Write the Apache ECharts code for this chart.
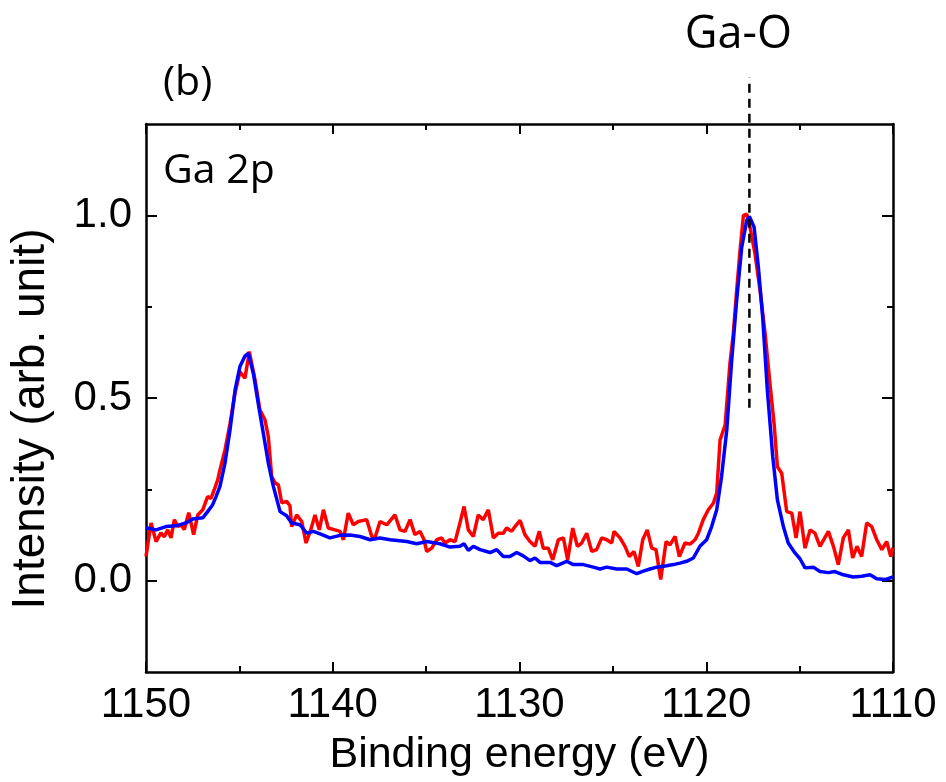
<!DOCTYPE html>
<html>
<head>
<meta charset="utf-8">
<script src="https://cdn.jsdelivr.net/npm/echarts@6/dist/echarts.min.js"></script>
<style>
  html, body { margin: 0; padding: 0; background: #ffffff; }
  #chart { width: 946px; height: 782px; }
</style>
</head>
<body>
<div id="chart"></div>
<script>
// Ga 2p XPS spectra, normalised intensity vs binding energy (eV)
const redEnergy = [
  1150.00, 1149.73, 1149.46, 1149.20, 1149.02, 1148.84, 1148.66, 1148.48, 1148.30, 1148.13,
  1147.95, 1147.71, 1147.45, 1147.23, 1146.96, 1146.70, 1146.52, 1146.34, 1146.16, 1146.04,
  1145.77, 1145.50, 1145.23, 1144.97, 1144.70, 1144.47, 1144.16, 1143.90, 1143.63, 1143.45,
  1143.27, 1143.09, 1142.91, 1142.73, 1142.47, 1142.29, 1142.20, 1141.93, 1141.66, 1141.43,
  1141.18, 1140.95, 1140.72, 1140.50, 1140.24, 1139.88, 1139.61, 1139.43, 1139.17, 1138.90,
  1138.63, 1138.18, 1137.91, 1137.74, 1137.47, 1137.11, 1136.67, 1136.40, 1136.13, 1135.86,
  1135.60, 1135.33, 1135.11, 1134.97, 1134.70, 1134.43, 1134.17, 1133.99, 1133.72, 1133.45,
  1133.19, 1132.97, 1132.74, 1132.47, 1132.21, 1131.94, 1131.67, 1131.40, 1131.14, 1130.87,
  1130.69, 1130.42, 1130.24, 1129.97, 1129.71, 1129.44, 1129.17, 1128.94, 1128.73, 1128.46,
  1128.22, 1127.92, 1127.65, 1127.42, 1127.15, 1126.90, 1126.67, 1126.40, 1126.13, 1125.87,
  1125.60, 1125.33, 1125.06, 1124.94, 1124.62, 1124.35, 1124.12, 1123.87, 1123.64, 1123.40,
  1123.16, 1122.92, 1122.69, 1122.44, 1122.15, 1121.94, 1121.67, 1121.44, 1121.14, 1120.87,
  1120.60, 1120.42, 1120.16, 1119.89, 1119.62, 1119.44, 1119.26, 1118.99, 1118.73, 1118.55,
  1118.37, 1118.19, 1118.01, 1117.83, 1117.66, 1117.39, 1117.12, 1116.85, 1116.59, 1116.37,
  1116.19, 1115.96, 1115.69, 1115.42, 1115.19, 1114.98, 1114.71, 1114.44, 1114.18, 1113.91,
  1113.46, 1113.19, 1112.93, 1112.66, 1112.39, 1112.16, 1111.93, 1111.68, 1111.41, 1111.14,
  1110.87, 1110.60, 1110.34, 1110.12, 1110.00
];
const redIntensity = [
  0.066, 0.158, 0.107, 0.131, 0.120, 0.139, 0.117, 0.167, 0.148, 0.153,
  0.140, 0.186, 0.126, 0.180, 0.194, 0.230, 0.225, 0.250, 0.276, 0.303,
  0.358, 0.430, 0.514, 0.572, 0.554, 0.627, 0.549, 0.467, 0.440, 0.394,
  0.285, 0.268, 0.262, 0.213, 0.217, 0.205, 0.148, 0.180, 0.162, 0.103,
  0.139, 0.180, 0.139, 0.194, 0.144, 0.139, 0.135, 0.112, 0.185, 0.153,
  0.162, 0.167, 0.121, 0.117, 0.162, 0.153, 0.180, 0.139, 0.135, 0.167,
  0.126, 0.135, 0.112, 0.080, 0.089, 0.112, 0.117, 0.103, 0.112, 0.107,
  0.158, 0.203, 0.139, 0.121, 0.180, 0.167, 0.194, 0.117, 0.130, 0.130,
  0.144, 0.135, 0.148, 0.165, 0.126, 0.107, 0.094, 0.135, 0.089, 0.089,
  0.057, 0.112, 0.117, 0.057, 0.144, 0.094, 0.103, 0.130, 0.080, 0.085,
  0.117, 0.112, 0.103, 0.135, 0.117, 0.094, 0.066, 0.080, 0.039, 0.112,
  0.139, 0.089, 0.085, 0.003, 0.107, 0.098, 0.121, 0.066, 0.103, 0.100,
  0.112, 0.130, 0.167, 0.194, 0.212, 0.240, 0.385, 0.426, 0.595, 0.677,
  0.795, 0.904, 1.000, 1.003, 0.968, 0.895, 0.795, 0.677, 0.540, 0.431,
  0.312, 0.294, 0.189, 0.185, 0.117, 0.189, 0.089, 0.139, 0.130, 0.094,
  0.135, 0.094, 0.044, 0.117, 0.139, 0.062, 0.094, 0.066, 0.158, 0.148,
  0.112, 0.085, 0.107, 0.066, 0.090
];
const blueEnergy = [
  1150.00, 1149.46, 1148.93, 1148.39, 1147.86, 1147.50, 1146.96, 1146.70, 1146.43, 1146.25,
  1146.04, 1145.77, 1145.50, 1145.23, 1144.97, 1144.70, 1144.52, 1144.25, 1143.99, 1143.72,
  1143.45, 1143.18, 1142.82, 1142.47, 1142.20, 1141.75, 1141.40, 1141.04, 1140.68, 1140.15,
  1139.61, 1139.08, 1138.54, 1138.00, 1137.47, 1136.93, 1136.04, 1135.50, 1134.97, 1134.26,
  1133.72, 1133.19, 1132.97, 1132.74, 1132.47, 1132.11, 1131.58, 1131.22, 1130.87, 1130.51,
  1130.15, 1129.80, 1129.44, 1129.17, 1128.90, 1128.37, 1128.01, 1127.47, 1127.12, 1126.58,
  1126.05, 1125.69, 1125.33, 1124.80, 1124.26, 1123.72, 1123.37, 1123.01, 1122.65, 1122.12,
  1121.76, 1121.41, 1121.05, 1120.69, 1120.34, 1119.98, 1119.71, 1119.44, 1119.18, 1118.90,
  1118.65, 1118.37, 1118.10, 1117.83, 1117.69, 1117.44, 1117.21, 1116.98, 1116.73, 1116.44,
  1116.19, 1115.87, 1115.61, 1115.25, 1114.98, 1114.71, 1114.27, 1113.91, 1113.46, 1113.11,
  1112.66, 1112.13, 1111.68, 1111.23, 1110.87, 1110.43, 1110.00
];
const blueIntensity = [
  0.145, 0.139, 0.148, 0.150, 0.158, 0.169, 0.172, 0.189, 0.208, 0.230,
  0.258, 0.322, 0.413, 0.522, 0.586, 0.615, 0.622, 0.567, 0.485, 0.404,
  0.322, 0.258, 0.189, 0.178, 0.158, 0.153, 0.130, 0.135, 0.128, 0.117,
  0.124, 0.125, 0.121, 0.112, 0.117, 0.112, 0.107, 0.101, 0.107, 0.101,
  0.092, 0.094, 0.101, 0.083, 0.094, 0.085, 0.077, 0.085, 0.066, 0.066,
  0.077, 0.068, 0.055, 0.062, 0.050, 0.050, 0.041, 0.053, 0.044, 0.044,
  0.037, 0.032, 0.037, 0.032, 0.032, 0.019, 0.026, 0.032, 0.037, 0.041,
  0.044, 0.048, 0.053, 0.062, 0.094, 0.112, 0.148, 0.194, 0.285, 0.413,
  0.595, 0.768, 0.913, 0.986, 0.997, 0.968, 0.859, 0.722, 0.522, 0.340,
  0.221, 0.148, 0.103, 0.076, 0.060, 0.035, 0.037, 0.025, 0.022, 0.025,
  0.016, 0.010, 0.012, 0.016, 0.005, 0.003, 0.010
];

// axis ranges and tick positions
const xRange = [1110, 1150];
const xStep = 10;
const yRange = [-0.25, 1.25];
const yMajorTicks = [0, 0.5, 1.0];
const yMinorTicks = [0.25, 0.75];

// Ga-O reference position and the vertical extent of its marker line
const gaOEnergy = 1117.69;
const gaOLineSpan = [0.473, 1.377];

const NUM_FONT = 'Liberation Sans, Arial, Helvetica, sans-serif';
const TXT_FONT = 'Open Sans, Noto Sans, sans-serif';

function zip(xs, ys) { return xs.map((x, i) => [x, ys[i]]); }

function xAxisCfg(position, withLabels) {
  return {
    type: 'value', position: position,
    min: xRange[0], max: xRange[1], interval: xStep, inverse: true,
    axisLine: { show: true, onZero: false, lineStyle: { color: '#000', width: 2.5 } },
    axisTick: { show: true, inside: true, length: 10, lineStyle: { color: '#000', width: 2 } },
    minorTick: { show: true, splitNumber: 2, length: 6, lineStyle: { color: '#000', width: 2 } },
    axisLabel: { show: withLabels, margin: 12, color: '#000', fontSize: 42, fontFamily: NUM_FONT,
                 formatter: v => String(v) },
    splitLine: { show: false }, minorSplitLine: { show: false },
    name: withLabels ? 'Binding energy (eV)' : '',
    nameLocation: 'middle', nameGap: 62,
    nameTextStyle: { color: '#000', fontSize: 43, fontFamily: NUM_FONT }
  };
}

function yAxisCfg(position, ticks, tickLen, withLine, withLabels) {
  return {
    type: 'value', position: position,
    min: yRange[0], max: yRange[1], interval: 0.25,
    axisLine: { show: withLine, onZero: false, lineStyle: { color: '#000', width: 2.5 } },
    axisTick: { show: true, inside: true, length: tickLen, customValues: ticks,
                lineStyle: { color: '#000', width: 2 } },
    axisLabel: { show: withLabels, customValues: ticks, margin: 14, color: '#000',
                 fontSize: 42, fontFamily: NUM_FONT, formatter: v => v.toFixed(1) },
    splitLine: { show: false },
    name: withLabels ? 'Intensity (arb. unit)' : '',
    nameLocation: 'middle', nameRotate: 90, nameGap: 92,
    nameTextStyle: { color: '#000', fontSize: 46, fontFamily: NUM_FONT,
                     padding: [0, 42, 0, 0] }
  };
}

const chart = echarts.init(document.getElementById('chart'), null, { renderer: 'canvas' });

chart.setOption({
  animation: false,
  backgroundColor: '#ffffff',
  grid: { left: 146, right: 53, top: 124, bottom: 110, containLabel: false, outerBoundsMode: 'none' },
  xAxis: [xAxisCfg('bottom', true), xAxisCfg('top', false)],
  yAxis: [
    yAxisCfg('left', yMajorTicks, 11, true, true),
    yAxisCfg('left', yMinorTicks, 6, false, false),
    yAxisCfg('right', yMajorTicks, 11, true, false),
    yAxisCfg('right', yMinorTicks, 6, false, false)
  ],
  series: [
    {
      type: 'line', data: zip(redEnergy, redIntensity),
      symbol: 'none', lineStyle: { color: '#ff0000', width: 3.5 }, z: 2
    },
    {
      type: 'line', data: zip(blueEnergy, blueIntensity),
      symbol: 'none', lineStyle: { color: '#0000ff', width: 3.5 }, z: 3
    },
    {
      type: 'line', data: gaOLineSpan.map(v => [gaOEnergy, v]),
      symbol: 'none', clip: false, silent: true,
      lineStyle: { color: '#000', width: 2.5, type: [9, 6] }, z: 4
    }
  ]
});

// text annotations: panel tag, core level, and the Ga-O marker title
const gaOTop = chart.convertToPixel({ gridIndex: 0 }, [gaOEnergy, gaOLineSpan[1]]);
chart.setOption({
  graphic: [
    { type: 'text', left: 163, top: 63,
      style: { text: '(b)', font: '41px ' + TXT_FONT, fill: '#000' } },
    { type: 'text', left: 163, top: 151,
      style: { text: 'Ga 2p', font: '41px ' + TXT_FONT, fill: '#000' } },
    { type: 'text', x: gaOTop[0] - 11, y: gaOTop[1] - 42,
      style: { text: 'Ga-O', font: '45px ' + TXT_FONT, fill: '#000',
               align: 'center', verticalAlign: 'middle' } }
  ]
});
</script>
</body>
</html>
